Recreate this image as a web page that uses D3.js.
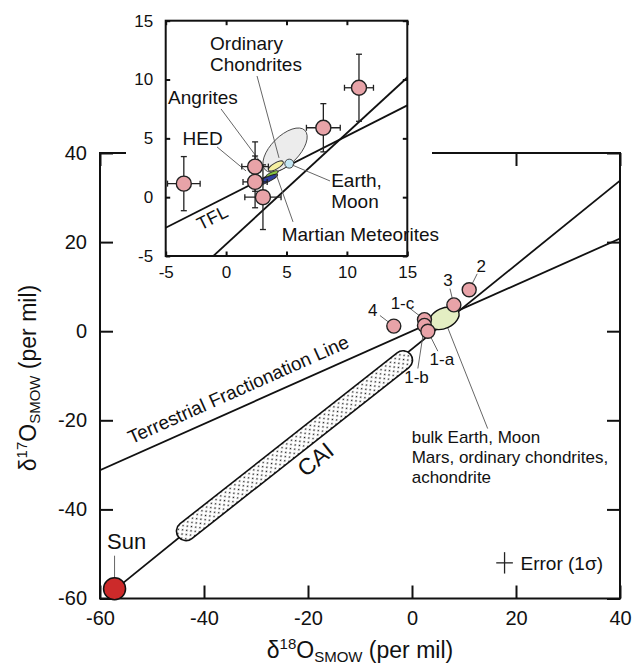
<!DOCTYPE html>
<html>
<head>
<meta charset="utf-8">
<title>Oxygen three-isotope plot</title>
<script src="https://d3js.org/d3.v7.min.js"></script>
<style>
  body { margin: 0; background: #fff; }
  svg { font-family: "Liberation Sans", Arial, sans-serif; fill: #111; }
  .frame { fill: none; stroke: #111; stroke-width: 2; }
  .axis path.domain { display: none; }
  .axis line { stroke: #111; stroke-width: 2; }
  .axis text { fill: #111; }
  .trend { stroke: #111; stroke-width: 1.8; fill: none; }
  .leader { stroke: #555; stroke-width: 0.9; }
  .sample { fill: #e8a3a8; stroke: #222; stroke-width: 1.4; }
  .ebar { stroke: #222; stroke-width: 1.3; }
</style>
</head>
<body>
<svg width="632" height="667"></svg>
<script>
// ---- data ----
const tickMain = [-60, -40, -20, 0, 20, 40];
const tickInset = [-5, 0, 5, 10, 15];

const tflSlope = 0.52;                        // terrestrial fractionation line
const ccamSlope = 0.945, ccamIntercept = -4.0; // slope ~1 line through the Sun

const sampleIds = ["1-a", "1-b", "1-c", "2", "3", "4"];
const sampleD18 = [3.05, 2.4, 2.4, 11.0, 8.05, -3.5];
const sampleD17 = [0.0, 1.3, 2.6, 9.3, 5.9, 1.15];
const sampleErr18 = [1.5, 1.0, 1.1, 1.2, 1.4, 1.35];
const sampleErr17 = [2.75, 2.2, 2.1, 2.85, 2.05, 2.3];

const sunD18 = -57.2, sunD17 = -57.8;
const caiD18 = [-44.9, -0.3];
const caiD17 = [-46.2, -5.2];
const bulkD18 = 6.15, bulkD17 = 2.9;
const errLegendD18 = 17.8, errLegendD17 = -52, errSigma18 = 1.6, errSigma17 = 2.4;

// inset meteorite fields
const fieldNames = ["Ordinary Chondrites", "Angrites", "Martian Meteorites", "HED", "Earth, Moon"];
const fieldD18 = [4.88, 4.12, 3.8, 3.25, 5.23];
const fieldD17 = [4.0, 2.65, 1.96, 1.42, 2.85];

// ---- layout / style ----
const fieldStyle = [
  { rx: 28, ry: 14, rot: -45, fill: "#ececec", stroke: "#444" },
  { rx: 8.5, ry: 3, rot: -30, fill: "#f4efa0", stroke: "#333" },
  { rx: 6.5, ry: 2, rot: -25, fill: "#86c440", stroke: "#333" },
  { rx: 13.5, ry: 2.6, rot: -25, fill: "#2e3f9e", stroke: "#222" },
  { rx: 4.5, ry: 4.5, rot: 0, fill: "#c3e6f3", stroke: "#333" }
];
// main sample labels: centre offset from the point (px)
const mainLabelOffset = [[14, 28], [-8, 52], [-22, -17], [12, -24], [-6, -25], [-21, -16]];

const svg = d3.select("svg");
const defs = svg.append("defs");
const pat = defs.append("pattern").attr("id", "dots")
  .attr("width", 6).attr("height", 6).attr("patternUnits", "userSpaceOnUse");
pat.append("rect").attr("width", 6).attr("height", 6).attr("fill", "#fff");
pat.append("circle").attr("cx", 1.5).attr("cy", 1.5).attr("r", 0.85).attr("fill", "#111");
pat.append("circle").attr("cx", 4.5).attr("cy", 4.5).attr("r", 0.85).attr("fill", "#111");

const x = d3.scaleLinear().domain([-60, 40]).range([100, 620]);
const y = d3.scaleLinear().domain([-60, 40]).range([598.5, 153]);
const xi = d3.scaleLinear().domain([-5, 15]).range([165.7, 407.3]);
const yi = d3.scaleLinear().domain([-5, 15]).range([256, 20.7]);

function clip(id, xs, ys) {
  defs.append("clipPath").attr("id", id).append("rect")
    .attr("x", xs.range()[0]).attr("y", ys.range()[1])
    .attr("width", xs.range()[1] - xs.range()[0])
    .attr("height", ys.range()[0] - ys.range()[1]);
}
clip("clipMain", x, y);
clip("clipInset", xi, yi);

function drawAxes(g, xs, ys, xt, yt, len, padX, padY, size) {
  const fmt = d => String(d);
  const none = () => "";
  const [x0, x1] = xs.range(), [y0, y1] = ys.range();
  const parts = [
    [d3.axisBottom(xs).tickValues(xt).tickFormat(fmt).tickPadding(padX), `translate(0,${y0})`],
    [d3.axisTop(xs).tickValues(xt).tickFormat(none), `translate(0,${y1})`],
    [d3.axisLeft(ys).tickValues(yt).tickFormat(fmt).tickPadding(padY), `translate(${x0},0)`],
    [d3.axisRight(ys).tickValues(yt).tickFormat(none), `translate(${x1},0)`]
  ];
  parts.forEach(([ax, tr]) => {
    g.append("g").attr("class", "axis").attr("transform", tr)
      .call(ax.tickSizeInner(-len).tickSizeOuter(0))
      .attr("font-size", size).attr("font-family", null);
  });
  g.append("rect").attr("class", "frame")
    .attr("x", x0).attr("y", y1).attr("width", x1 - x0).attr("height", y0 - y1);
}

function isoTitle(t, mass) {
  t.append("tspan").text("δ");
  t.append("tspan").attr("font-size", 15).attr("dy", -9).text(mass);
  t.append("tspan").attr("dy", 9).text("O");
  t.append("tspan").attr("font-size", 15).attr("dy", 4).text("SMOW");
  t.append("tspan").attr("dy", -4).text(" (per mil)");
}

// ================= main panel =================
const main = svg.append("g");
drawAxes(main, x, y, tickMain, tickMain, 13, 12, 13, 20);

const mLines = main.append("g").attr("clip-path", "url(#clipMain)");
mLines.append("line").attr("class", "trend")
  .attr("x1", x(-60)).attr("y1", y(tflSlope * -60))
  .attr("x2", x(40)).attr("y2", y(tflSlope * 40));
mLines.append("line").attr("class", "trend")
  .attr("x1", x(sunD18)).attr("y1", y(ccamSlope * sunD18 + ccamIntercept))
  .attr("x2", x(40)).attr("y2", y(ccamSlope * 40 + ccamIntercept));

// CAI capsule
{
  const ax = x(caiD18[0]), ay = y(caiD17[0]), bx = x(caiD18[1]), by = y(caiD17[1]);
  const len = Math.hypot(bx - ax, by - ay);
  const ang = Math.atan2(by - ay, bx - ax) * 180 / Math.PI;
  const cx = (ax + bx) / 2, cy = (ay + by) / 2;
  main.append("rect")
    .attr("x", cx - len / 2).attr("y", cy - 9.5).attr("width", len).attr("height", 19)
    .attr("rx", 9.5).attr("ry", 9.5)
    .attr("transform", `rotate(${ang},${cx},${cy})`)
    .attr("fill", "url(#dots)").attr("stroke", "#111").attr("stroke-width", 1.6);

  // CAI label below the capsule
  const t = -21.6;
  const px = x(t), py = y(ccamSlope * t + ccamIntercept);
  const lineAng = Math.atan2(y(ccamSlope * 10 + ccamIntercept) - y(ccamIntercept), x(10) - x(0));
  const nx = -Math.sin(lineAng), ny = Math.cos(lineAng);
  main.append("text")
    .attr("transform", `translate(${px + nx * 25},${py + ny * 25}) rotate(${lineAng * 180 / Math.PI})`)
    .attr("text-anchor", "middle").attr("dy", "0.35em").attr("font-size", 23).text("CAI");
}

// TFL label
{
  const t = -53.1;
  const ang = Math.atan2(y(tflSlope * 10) - y(0), x(10) - x(0));
  const nx = Math.sin(ang), ny = -Math.cos(ang);
  main.append("text")
    .attr("transform", `translate(${x(t) + nx * 11},${y(tflSlope * t) + ny * 11}) rotate(${ang * 180 / Math.PI})`)
    .attr("font-size", 19).text("Terrestrial Fractionation Line");
}

// bulk Earth field
{
  const bx = x(bulkD18), by = y(bulkD17);
  main.append("line").attr("class", "leader")
    .attr("x1", bx + 43.7).attr("y1", by + 110.3).attr("x2", bx).attr("y2", by);
  main.append("ellipse").attr("cx", bx).attr("cy", by).attr("rx", 16).attr("ry", 10)
    .attr("transform", `rotate(-25,${bx},${by})`)
    .attr("fill", "#e4eec3").attr("stroke", "#111").attr("stroke-width", 1.4);
  const lbl = main.append("text").attr("font-size", 17);
  ["bulk Earth, Moon", "Mars, ordinary chondrites,", "achondrite"].forEach((s, i) => {
    lbl.append("tspan").attr("x", bx - 32.3).attr("y", by + 124.5 + i * 20).text(s);
  });
}

// samples
const mainPts = sampleIds.map((id, i) => ({ id, px: x(sampleD18[i]), py: y(sampleD17[i]), off: mainLabelOffset[i] }));
mainPts.forEach(p => {
  const [dx, dy] = p.off;
  const d = Math.hypot(dx, dy), ux = dx / d, uy = dy / d;
  main.append("line").attr("class", "leader")
    .attr("x1", p.px + ux * 6).attr("y1", p.py + uy * 6)
    .attr("x2", p.px + dx - ux * 9).attr("y2", p.py + dy - uy * 9);
});
main.selectAll("circle.sample").data(mainPts.slice().reverse()).join("circle")
  .attr("class", "sample").attr("cx", d => d.px).attr("cy", d => d.py).attr("r", 7);
main.selectAll("text.slabel").data(mainPts).join("text")
  .attr("class", "slabel").attr("font-size", 17).attr("text-anchor", "middle").attr("dy", "0.35em")
  .attr("x", d => d.px + d.off[0]).attr("y", d => d.py + d.off[1]).text(d => d.id);

// Sun
{
  const sx = x(sunD18), sy = y(sunD17);
  main.append("line").attr("class", "leader").attr("x1", sx).attr("y1", sy - 33).attr("x2", sx).attr("y2", sy - 11);
  main.append("circle").attr("cx", sx).attr("cy", sy).attr("r", 11)
    .attr("fill", "#cc2a2a").attr("stroke", "#111").attr("stroke-width", 1.5);
  main.append("text").attr("x", sx + 12).attr("y", sy - 39.5).attr("text-anchor", "middle")
    .attr("font-size", 22).text("Sun");
}

// error legend
{
  const ex = x(errLegendD18), ey = y(errLegendD17);
  main.append("line").attr("class", "ebar").attr("stroke-width", 1.6)
    .attr("x1", x(errLegendD18 - errSigma18)).attr("x2", x(errLegendD18 + errSigma18)).attr("y1", ey).attr("y2", ey);
  main.append("line").attr("class", "ebar").attr("stroke-width", 1.6)
    .attr("x1", ex).attr("x2", ex).attr("y1", y(errLegendD17 - errSigma17)).attr("y2", y(errLegendD17 + errSigma17));
  main.append("text").attr("x", ex + 16).attr("y", ey + 7).attr("font-size", 19).text("Error (1σ)");
}

// axis titles
isoTitle(main.append("text").attr("x", 360).attr("y", 658).attr("text-anchor", "middle").attr("font-size", 23), "18");
isoTitle(main.append("text").attr("transform", "translate(36,378) rotate(-90)").attr("text-anchor", "middle").attr("font-size", 23), "17");

// ================= inset =================
const inset = svg.append("g");
inset.append("rect").attr("x", 126).attr("y", 0).attr("width", 306).attr("height", 292).attr("fill", "#fff");
drawAxes(inset, xi, yi, tickInset, tickInset, 4.5, 9.5, 12.5, 17);

const iLines = inset.append("g").attr("clip-path", "url(#clipInset)");
iLines.append("line").attr("class", "trend")
  .attr("x1", xi(-5)).attr("y1", yi(tflSlope * -5))
  .attr("x2", xi(15)).attr("y2", yi(tflSlope * 15));
iLines.append("line").attr("class", "trend")
  .attr("x1", xi(-5)).attr("y1", yi(ccamSlope * -5 + ccamIntercept))
  .attr("x2", xi(15)).attr("y2", yi(ccamSlope * 15 + ccamIntercept));

// fields
fieldNames.forEach((name, i) => {
  const s = fieldStyle[i], cx = xi(fieldD18[i]), cy = yi(fieldD17[i]);
  inset.append("ellipse").attr("cx", cx).attr("cy", cy).attr("rx", s.rx).attr("ry", s.ry)
    .attr("transform", `rotate(${s.rot},${cx},${cy})`)
    .attr("fill", s.fill).attr("stroke", s.stroke).attr("stroke-width", 0.9);
});

// field labels and leaders (inset units)
const insetLeaders = [
  [[2.56, 10.3], [4.38, 3.34]],
  [[-0.42, 7.5], [3.14, 2.57]],
  [[5.54, -2.1], [4.13, 1.98]],
  [[-0.75, 4.27], [1.65, 2.23]],
  [[8.6, 1.38], [5.46, 2.74]]
];
const insetLabels = [
  [-1.33, 12.5, ["Ordinary", "Chondrites"]],
  [-4.8, 7.9, ["Angrites"]],
  [4.6, -3.72, ["Martian Meteorites"]],
  [-3.6, 4.45, ["HED"]],
  [8.7, 0.9, ["Earth,", "Moon"]]
];
insetLeaders.forEach(([a, b]) => {
  inset.append("line").attr("class", "leader")
    .attr("x1", xi(a[0])).attr("y1", yi(a[1])).attr("x2", xi(b[0])).attr("y2", yi(b[1]));
});
insetLabels.forEach(([lx, ly, lines]) => {
  const t = inset.append("text").attr("font-size", 19);
  lines.forEach((s, k) => t.append("tspan").attr("x", xi(lx)).attr("y", yi(ly) + k * 21).text(s));
});

// samples with error bars
const insetPts = sampleIds.map((id, i) => ({ i, d18: sampleD18[i], d17: sampleD17[i], e18: sampleErr18[i], e17: sampleErr17[i] }));
insetPts.forEach(p => {
  const g = inset.append("g");
  const cx = xi(p.d18), cy = yi(p.d17);
  const l = xi(p.d18 - p.e18), r = xi(p.d18 + p.e18), t = yi(p.d17 + p.e17), b = yi(p.d17 - p.e17);
  g.append("line").attr("class", "ebar").attr("x1", l).attr("x2", r).attr("y1", cy).attr("y2", cy);
  g.append("line").attr("class", "ebar").attr("x1", cx).attr("x2", cx).attr("y1", t).attr("y2", b);
  [l, r].forEach(v => g.append("line").attr("class", "ebar").attr("x1", v).attr("x2", v).attr("y1", cy - 3).attr("y2", cy + 3));
  [t, b].forEach(v => g.append("line").attr("class", "ebar").attr("x1", cx - 3).attr("x2", cx + 3).attr("y1", v).attr("y2", v));
});
inset.selectAll("circle.sample").data(insetPts.slice().reverse()).join("circle")
  .attr("class", "sample").attr("cx", d => xi(d.d18)).attr("cy", d => yi(d.d17)).attr("r", 7.5);

// TFL label in the inset
{
  const t = -1.6;
  const ang = Math.atan2(yi(tflSlope * 10) - yi(0), xi(10) - xi(0));
  const nx = -Math.sin(ang), ny = Math.cos(ang);
  inset.append("text")
    .attr("transform", `translate(${xi(t) + nx * 12},${yi(tflSlope * t) + ny * 12}) rotate(${ang * 180 / Math.PI})`)
    .attr("text-anchor", "middle").attr("dy", "0.35em").attr("font-size", 18).text("TFL");
}
</script>
</body>
</html>
